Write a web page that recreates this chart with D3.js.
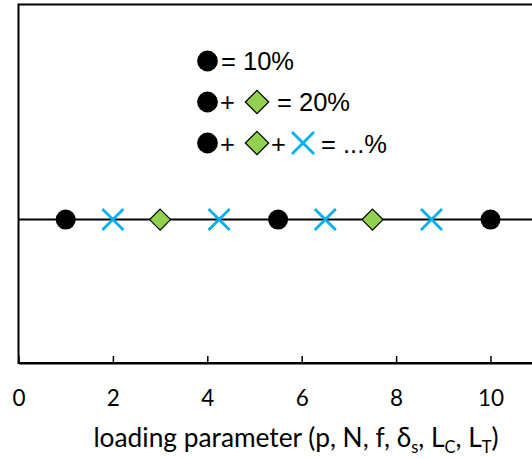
<!DOCTYPE html>
<html><head><meta charset="utf-8">
<script src="https://cdn.jsdelivr.net/npm/d3@7"></script>
<style>body{margin:0;background:#fff}svg{display:block}</style>
</head><body>
<svg id="c" width="532" height="459"></svg>
<script>
const circlesX = [1, 5.5, 10];
const diamondsX = [3, 7.5];
const crossesX = [2, 4.25, 6.5, 8.75];
const markerY = 0.4;
const lineX = [0, 12];
const xTicks = [0, 2, 4, 6, 8, 10];
const legendLabels = ["= 10%", "= 20%", "= ...%"];

const svg = d3.select("#c");
const m = {left: 18.5, top: 4.5, bottom: 363};
const x = d3.scaleLinear().domain([0, 12]).range([m.left, m.left + 12 * 47.2]);
const y = d3.scaleLinear().domain([0, 1]).range([m.bottom, m.top]);

// frame
svg.append("rect").attr("x", x(0)).attr("y", y(1)).attr("width", x(12) - x(0)).attr("height", y(0) - y(1))
  .attr("fill", "none").attr("stroke", "#000").attr("stroke-width", 2);

// x axis
const ax = svg.append("g").attr("transform", `translate(0,${y(0)})`)
  .call(d3.axisBottom(x).tickValues(xTicks).tickSizeInner(-7).tickSizeOuter(0).tickPadding(27));
ax.select(".domain").attr("stroke", "#000").attr("stroke-width", 2);
ax.selectAll(".tick line").attr("stroke", "#000").attr("stroke-width", 1.5);
ax.selectAll(".tick text").attr("font-family", "Lato, 'Open Sans', sans-serif").attr("font-size", 22.5).attr("fill", "#000");

// axis title
const t = svg.append("text").attr("x", 296).attr("y", 447).attr("text-anchor", "middle")
  .attr("font-family", "Lato, 'Open Sans', sans-serif").attr("font-size", 26.3).attr("fill", "#000");
t.append("tspan").text("loading parameter (p, N, f, δ");
t.append("tspan").text("s").attr("font-size", 16.5).attr("dy", 6);
t.append("tspan").text(", L").attr("dy", -6);
t.append("tspan").text("C").attr("font-size", 16.5).attr("dy", 6);
t.append("tspan").text(", L").attr("dy", -6);
t.append("tspan").text("T").attr("font-size", 16.5).attr("dy", 6);
t.append("tspan").text(")").attr("dy", -6);

// horizontal line
svg.append("path").attr("d", d3.line().x(d => x(d)).y(() => y(markerY))(lineX))
  .attr("stroke", "#000").attr("stroke-width", 2).attr("fill", "none");

const blue = "#00B0F0", green = "#92D050";
function diamond(g, cx, cy, r) {
  g.append("path").attr("d", `M${cx},${cy - r}L${cx + r},${cy}L${cx},${cy + r}L${cx - r},${cy}Z`)
    .attr("fill", green).attr("stroke", "#000").attr("stroke-width", 1.2);
}
function cross(g, cx, cy, r) {
  g.append("path").attr("d", `M${cx - r},${cy - r}L${cx + r},${cy + r}M${cx - r},${cy + r}L${cx + r},${cy - r}`)
    .attr("stroke", blue).attr("stroke-width", 2.8).attr("fill", "none");
}
const gm = svg.append("g");
crossesX.forEach(d => cross(gm, x(d), y(markerY), 10.5));
diamondsX.forEach(d => diamond(gm, x(d), y(markerY), 10.5));
gm.selectAll("circle").data(circlesX).join("circle")
  .attr("cx", d => x(d)).attr("cy", y(markerY)).attr("r", 10).attr("fill", "#000");

// legend
const lg = svg.append("g").attr("font-family", "'Liberation Sans', Arial, sans-serif").attr("font-size", 25.5).attr("fill", "#000");
const rows = [61, 102, 143];
rows.forEach(ry => {
  lg.append("circle").attr("cx", 207.5).attr("cy", ry).attr("r", 10.4).attr("fill", "#000");
});
lg.append("text").attr("x", 221).attr("y", rows[0] + 9).text(legendLabels[0]);
lg.append("text").attr("x", 220).attr("y", rows[1] + 9).text("+");
diamond(lg, 257, rows[1], 11.7);
lg.append("text").attr("x", 277).attr("y", rows[1] + 9).text(legendLabels[1]);
lg.append("text").attr("x", 220).attr("y", rows[2] + 10).text("+");
diamond(lg, 257, rows[2], 11.7);
lg.append("text").attr("x", 271).attr("y", rows[2] + 10).text("+");
cross(lg, 303, rows[2], 11);
lg.append("text").attr("x", 321).attr("y", rows[2] + 10).text(legendLabels[2]);
</script>
</body></html>
